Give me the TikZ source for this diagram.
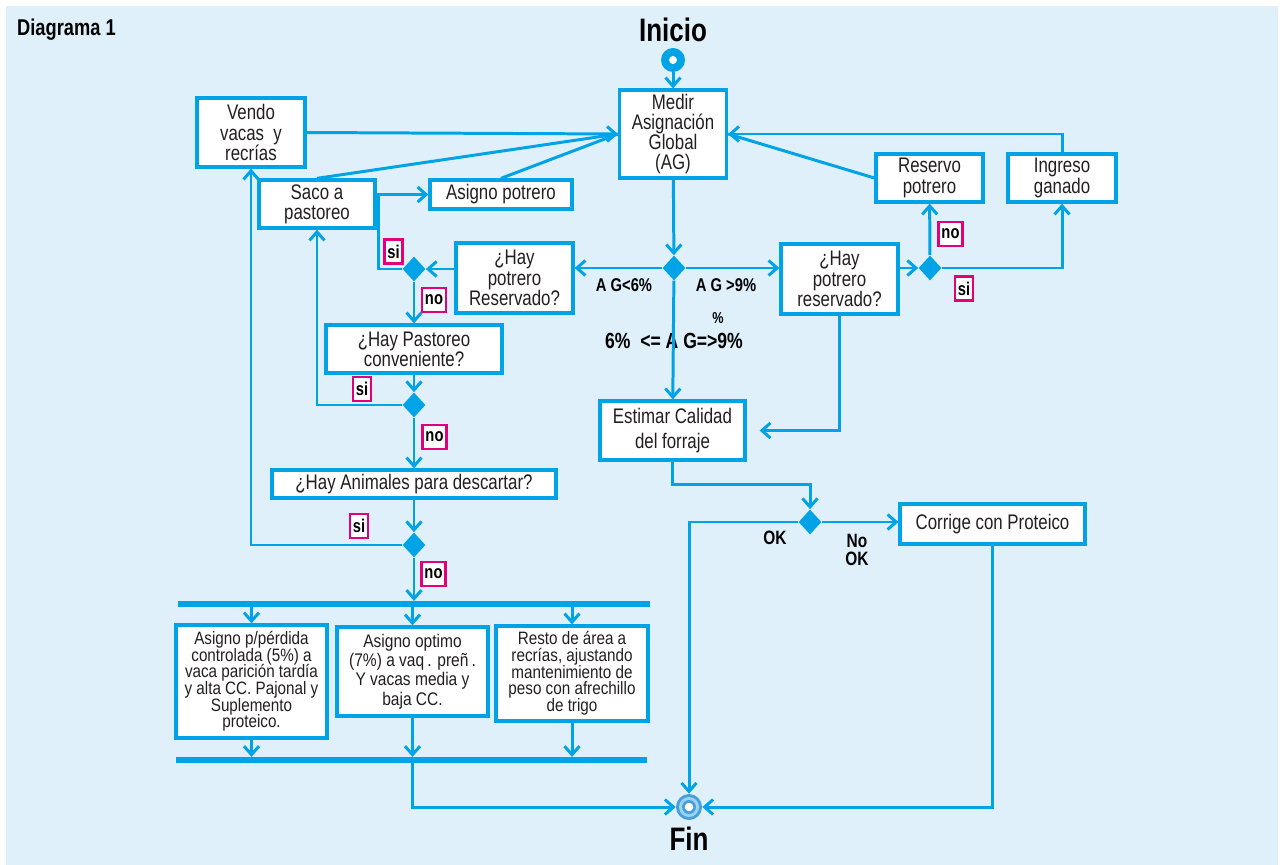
\documentclass[tikz,border=0pt]{standalone}
\usepackage{fontspec}
\setmainfont{Liberation Sans}[FakeStretch=0.8]
\newfontfamily\boxfont{Liberation Sans}[FakeStretch=0.85]
\usepackage{tikz}
\usetikzlibrary{shapes.geometric, arrows.meta, positioning, calc}
\definecolor{flow}{HTML}{00A4E6}
\definecolor{panel}{HTML}{DFF0FA}
\definecolor{magent}{HTML}{E2007A}
\definecolor{ink}{HTML}{231F20}
\definecolor{finout}{HTML}{4A9FDB}
\definecolor{finmid}{HTML}{9BD3F3}
\newcommand{\tightlines}{\lineskiplimit=-8pt\relax}

\begin{document}
\begin{tikzpicture}[
    x=0.02cm, y=-0.02cm,
    font=\fontsize{12}{11.5}\selectfont\tightlines,
    box/.style={rectangle, draw=flow, line width=1.9pt, fill=white, align=center, text=ink, inner sep=1pt},
    smallbox/.style={box, inner sep=0.5pt, font=\boxfont\fontsize{10.2}{9.5}\selectfont\tightlines},
    dec/.style={diamond, fill=flow, inner sep=0pt, minimum width=0.46cm, minimum height=0.5cm},
    bar/.style={rectangle, fill=flow, inner sep=0pt, minimum height=0.11cm},
    tag/.style={draw=magent, line width=1.4pt, fill=white, inner xsep=1.6pt, inner ysep=0pt, minimum height=0.48cm, font=\bfseries\fontsize{10.5}{10}\selectfont},
    cond/.style={font=\bfseries\fontsize{10.5}{10}\selectfont, align=center},
    wire/.style={draw=flow, line width=1.7pt},
    arrow/.style={wire, -{Straight Barb[length=1.7mm, width=3mm]}}
]
    \useasboundingbox (0,0) rectangle (1284,865);
    \fill[panel] (6,6) rectangle (1278,865);

    \node[anchor=west, font=\bfseries\fontsize{13}{13}\selectfont] (title) at (11,30) {Diagrama 1};

    % top: start and global allocation
    \node[box, minimum width=2.14cm, minimum height=1.76cm] (medir) at (673,134) {Medir\\Asignación\\Global\\(AG)};
    \node[circle, fill=flow, minimum size=0.48cm, inner sep=0pt, above=0.32cm of medir] (start) {};
    \fill[white] (start) circle (0.08cm);
    \node[font=\bfseries\fontsize{18.5}{18.5}\selectfont, above=0pt of start] (inicio) {Inicio};
    \node[dec] (d0) at (674,268) {};

    % left branch
    \node[box, minimum width=2.34cm, minimum height=1.4cm] (qleft) at (514.5,278) {¿Hay\\potrero\\Reservado?};
    \node[dec] (d1) at (414,269) {};
    \node[box, minimum width=2.84cm, minimum height=0.58cm] (asigno) at (501,194.5) {Asigno potrero};
    \node[box, minimum width=2.32cm, minimum height=0.96cm] (saco) at (317,204) {Saco a\\pastoreo};
    \node[box, minimum width=2.16cm, minimum height=1.38cm, font=\fontsize{12}{11.8}\selectfont\tightlines] (vendo) at (251,132.5) {Vendo\\vacas~~y\\recrías};
    \node[box, minimum width=3.52cm, minimum height=0.96cm] (pasto) at (414,349) {¿Hay Pastoreo\\conveniente?};
    \node[dec] (d2) at (414,405) {};
    \node[box, minimum width=5.68cm, minimum height=0.56cm] (animales) at (414,484) {¿Hay Animales para descartar?};
    \node[dec] (d3) at (414,545) {};

    \node[bar, minimum width=9.44cm] (bar1) at (414,604) {};
    \node[smallbox, minimum width=3.02cm, minimum height=2.26cm] (boxa) at (251.5,681.5) {Asigno p/pérdida\\controlada (5\%) a\\vaca parición tardía\\y alta CC. Pajonal y\\Suplemento\\proteico.};
    \node[smallbox, minimum width=3.02cm, minimum height=1.78cm, font=\boxfont\fontsize{10.4}{11}\selectfont\tightlines] (boxb) at (412.5,671.5) {Asigno optimo\\(7\%) a~vaq\,. preñ\,.\\Y vacas media y\\baja CC.};
    \node[smallbox, minimum width=3.04cm, minimum height=1.9cm] (boxc) at (572,673.5) {Resto de área a\\recrías, ajustando\\mantenimiento de\\peso con afrechillo\\de trigo};
    \node[bar, minimum width=9.42cm] (bar2) at (411.5,760) {};

    % right branch
    \node[box, minimum width=2.34cm, minimum height=1.4cm] (qright) at (839.5,279) {¿Hay\\potrero\\reservado?};
    \node[dec] (d4) at (930,268) {};
    \node[box, minimum width=2.14cm, minimum height=0.96cm] (reservo) at (929.5,178) {Reservo\\potrero};
    \node[box, minimum width=2.16cm, minimum height=0.96cm] (ingreso) at (1062,178) {Ingreso\\ganado};
    \node[box, minimum width=2.9cm, minimum height=1.18cm, font=\fontsize{12}{14.3}\selectfont] (estimar) at (672.5,430.5) {Estimar Calidad\\del forraje};
    \node[dec] (d5) at (810,522) {};
    \node[box, minimum width=3.7cm, minimum height=0.8cm] (corrige) at (992.5,524) {Corrige con Proteico};

    % end
    \node[circle, fill=finout, minimum size=0.52cm, inner sep=0pt] (fin) at (689,807) {};
    \fill[finmid] (fin) circle (0.2cm);
    \fill[finout] (fin) circle (0.14cm);
    \fill[white] (fin) circle (0.085cm);
    \node[font=\bfseries\fontsize{18.5}{18.5}\selectfont, below=0pt of fin] (finlabel) {Fin};

    % condition labels
    \node[cond] (lt) at (624,285) {A G<6\%};
    \node[cond] (gt) at (726,285) {A G >9\%};
    \node[cond, font=\bfseries\fontsize{9}{9}\selectfont] (pct) at (718,318) {\%};
    \node[cond, font=\bfseries\fontsize{12.5}{12.5}\selectfont] (mid) at (674,341) {6\%~~<= A G=>9\%};
    \node[cond, font=\bfseries\fontsize{11}{10.5}\selectfont] (ok) at (775,538) {OK};
    \node[cond, font=\bfseries\fontsize{11}{10.5}\selectfont] (nook) at (857,550) {No\\OK};

    \node[tag] (si1) at (393.5,251.5) {si};
    \node[tag] (no1) at (434,300) {no};
    \node[tag] (si2) at (362,389) {si};
    \node[tag] (no2) at (434.5,437) {no};
    \node[tag] (si3) at (359,526) {si};
    \node[tag] (no3) at (433.5,574) {no};
    \node[tag] (no4) at (950.5,234) {no};
    \node[tag] (si4) at (964,288.5) {si};

    % connectors
    \draw[arrow] (start) -- (medir);
    \draw[arrow] (vendo.east) -- (medir.west);
    \draw[wire] (saco.north) -- (medir.west);
    \draw[wire] (asigno.north) -- (medir.west);
    \draw[arrow] (ingreso.north) |- (medir.east);
    \draw[wire] (reservo.west) -- (medir.east);
    \draw[arrow] (medir) -- (d0);
    \draw[arrow] (d0) -- (d0 -| qleft.east);
    \draw[arrow] (d0) -- (d0 -| qright.west);
    \draw[arrow] (d0) -- (estimar);

    \draw[arrow] (qleft.west |- d1) -- (d1);
    \draw[arrow] (d1.west) -- ++(-24,0) |- (asigno.west);
    \draw[arrow] (d1) -- (pasto);
    \draw[arrow] (pasto) -- (d2);
    \draw[arrow] (d2.west) -| (saco.south);
    \draw[arrow] (d2) -- (animales);
    \draw[arrow] (animales) -- (d3);
    \draw[arrow] (d3.west) -| (vendo.south);
    \draw[arrow] (d3) -- (bar1.north);
    \foreach \b in {boxa, boxb, boxc} {
        \draw[arrow] (\b.north |- bar1.south) -- (\b.north);
        \draw[arrow] (\b.south) -- (\b.south |- bar2.north);
    }
    \draw[arrow] (boxb.south |- bar2.south) |- (fin.west);

    \draw[arrow] (qright.east |- d4) -- (d4);
    \draw[arrow] (d4) -- (reservo);
    \draw[arrow] (d4.east) -| (ingreso.south);
    \draw[arrow] (qright.south) |- ([xshift=0.26cm]estimar.east);
    \draw[arrow] (estimar.south) -- ++(0,23) -| (d5.north);
    \draw[arrow] (d5.west) -| (fin.north);
    \draw[arrow] (d5.east) -- (d5.east -| corrige.west);
    \draw[arrow] (corrige.south) |- (fin.east);
\end{tikzpicture}
\end{document}
